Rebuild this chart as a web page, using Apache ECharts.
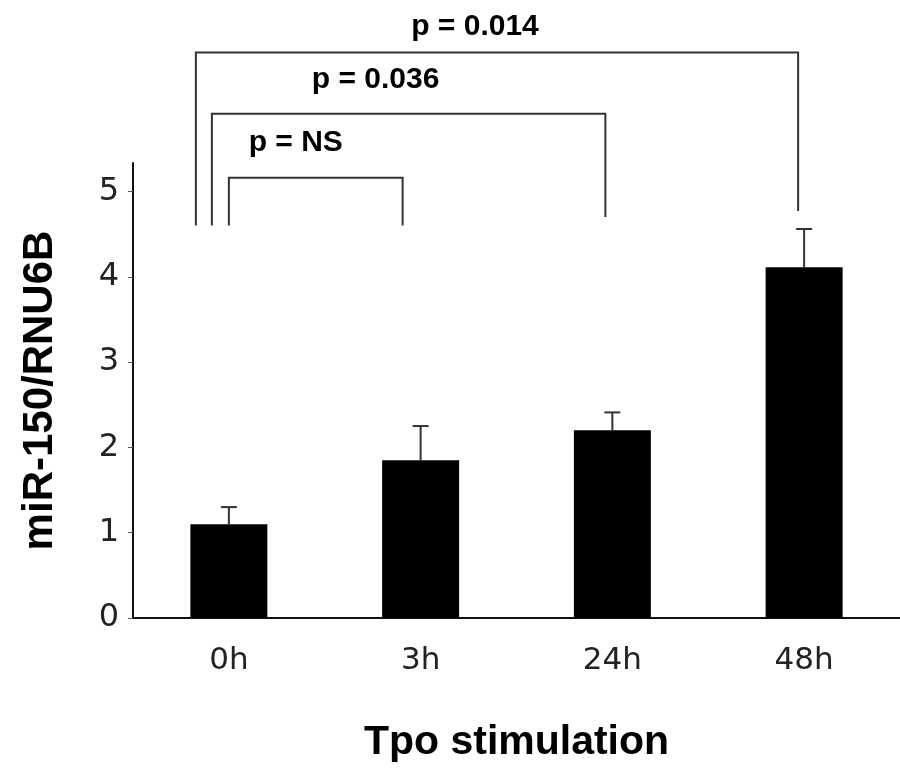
<!DOCTYPE html>
<html>
<head>
<meta charset="utf-8">
<script src="https://cdn.jsdelivr.net/npm/echarts@6/dist/echarts.min.js"></script>
<style>
  html, body { margin: 0; padding: 0; background: #fff; }
  #container { width: 900px; height: 768px; }
</style>
</head>
<body>
<div id="container"></div>
<script>
// values
let categories = ['0h', '3h', '24h', '48h'];
let means = [1.1, 1.85, 2.2, 4.11];
let errors = [0.2, 0.4, 0.21, 0.45];
let yTicks = [0, 1, 2, 3, 4, 5];

// significance brackets: 0h against each later time point
let compareFrom = [0, 0, 0];
let compareTo = [1, 2, 3];
let pLabels = ['p = NS', 'p = 0.036', 'p = 0.014'];
let bracketLevels = [5.16, 5.91, 6.63];
let rightLegEnds = [4.6, 4.7, 4.77];

let dom = document.getElementById('container');
let chart = echarts.init(dom);

// pixel nudges so the bracket legs sit where the original drew them
let leftShift = [0, -17, -33];
let rightShift = [-18, -7, -6];
let textShift = [-20, -33, -22];
let textLift = [35, 34, 26];

let errData = means.map((m, i) => [i, m, m + errors[i]]);
let bracketData = compareFrom.map((f, i) => [f, compareTo[i], bracketLevels[i], rightLegEnds[i], i]);

function renderError(params, api) {
    let base = api.coord([api.value(0), api.value(1)]);
    let top = api.coord([api.value(0), api.value(2)]);
    let st = { stroke: '#333', lineWidth: 2 };
    return {
        type: 'group',
        children: [
            { type: 'line', shape: { x1: base[0], y1: base[1], x2: top[0], y2: top[1] }, style: st },
            { type: 'line', shape: { x1: top[0] - 8, y1: top[1], x2: top[0] + 8, y2: top[1] }, style: st }
        ]
    };
}

function renderBracket(params, api) {
    let k = api.value(4);
    let lvl = api.coord([api.value(0), api.value(2)]);
    let leftBottom = api.coord([api.value(0), 4.6]);
    let rightBottom = api.coord([api.value(1), api.value(3)]);
    let x1 = lvl[0] + leftShift[k];
    let x2 = rightBottom[0] + rightShift[k];
    let y = lvl[1];
    let st = { stroke: '#333', lineWidth: 2, fill: null };
    return {
        type: 'group',
        children: [
            {
                type: 'polyline',
                shape: { points: [[x1, leftBottom[1]], [x1, y], [x2, y], [x2, rightBottom[1]]] },
                style: st
            },
            {
                type: 'text',
                style: {
                    text: pLabels[k],
                    x: (x1 + x2) / 2 + textShift[k],
                    y: y - textLift[k],
                    align: 'center',
                    verticalAlign: 'middle',
                    fontFamily: 'Liberation Sans, Arial, sans-serif',
                    fontWeight: 'bold',
                    fontSize: 30,
                    fill: '#000'
                }
            }
        ]
    };
}

chart.setOption({
    animation: false,
    backgroundColor: '#fff',
    grid: { left: 133, top: 163, height: 464, right: -11 },
    xAxis: {
        type: 'category',
        data: categories,
        name: 'Tpo stimulation',
        nameLocation: 'middle',
        nameGap: 104,
        nameTextStyle: { fontFamily: 'Liberation Sans, Arial, sans-serif', fontWeight: 'bold', fontSize: 41, color: '#000' },
        axisLine: { lineStyle: { color: '#111', width: 2 } },
        axisTick: { length: 5, lineStyle: { color: '#555', width: 1 } },
        axisLabel: { margin: 27, fontFamily: 'DejaVu Sans', fontSize: 31, color: '#222' }
    },
    yAxis: {
        type: 'value',
        min: 0,
        max: 16 / 3,
        name: 'miR-150/RNU6B',
        nameLocation: 'middle',
        nameGap: 72,
        nameTextStyle: { fontFamily: 'Liberation Sans, Arial, sans-serif', fontWeight: 'bold', fontSize: 42, color: '#000' },
        splitLine: { show: false },
        axisLine: { show: true, lineStyle: { color: '#111', width: 2 } },
        axisTick: { show: true, length: 5, customValues: yTicks, lineStyle: { color: '#555', width: 1 } },
        axisLabel: { margin: 14, customValues: yTicks, fontFamily: 'DejaVu Sans', fontSize: 32, color: '#222' }
    },
    series: [
        {
            type: 'bar',
            data: means,
            barWidth: 77,
            itemStyle: { color: '#000' }
        },
        {
            type: 'custom',
            data: errData,
            renderItem: renderError,
            z: 3
        },
        {
            type: 'custom',
            data: bracketData,
            renderItem: renderBracket,
            clip: false,
            z: 4
        }
    ]
});
</script>
</body>
</html>
